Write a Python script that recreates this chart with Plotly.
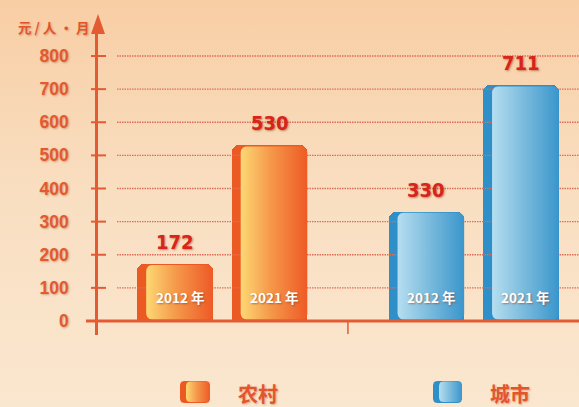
import numpy as np
import plotly.graph_objects as go

# ---------------- data ----------------
groups = ["农村", "城市"]
years = ["2012 年", "2021 年"]
rural_values = [172, 530]
urban_values = [330, 711]
y_ticks = [0, 100, 200, 300, 400, 500, 600, 700, 800]
y_title = "元 / 人 · 月"

# ---------------- layout constants ----------------
W, H = 579, 407
PLOT_L, PLOT_R, PLOT_T, PLOT_B = 98, 579, 30, 335
Y0_PX = 321                      # pixel row of value 0
PX_PER_UNIT_Y = 265 / 800.0
X_UNIT_PX = 94.5
FIRST_CENTER_PX = 175
GROUP_OFFSET = 2.66
BAR_W = 0.80

y_lo = -(PLOT_B - Y0_PX) / PX_PER_UNIT_Y
y_hi = (Y0_PX - PLOT_T) / PX_PER_UNIT_Y
x_lo = (PLOT_L - FIRST_CENTER_PX) / X_UNIT_PX
x_hi = (PLOT_R - FIRST_CENTER_PX) / X_UNIT_PX
grid_x0 = (117 - FIRST_CENTER_PX) / X_UNIT_PX

def px(x):
    return x / W

def py(y):
    return 1 - y / H

styles = {
    "农村": dict(side="#ec5a24", grad=[[0, "#fdd874"], [0.45, "#f5984a"], [1, "#ee5a26"]]),
    "城市": dict(side="#2f8fc9", grad=[[0, "#b6def0"], [0.5, "#78b9dc"], [1, "#3a96cc"]]),
}

def rounded_rect(x0, x1, y0, y1, rx, ry, n=8):
    xs, ys = [], []
    corners = [
        (x1 - rx, y1 - ry, 0, np.pi / 2),
        (x0 + rx, y1 - ry, np.pi / 2, np.pi),
        (x0 + rx, y0 + ry, np.pi, 1.5 * np.pi),
        (x1 - rx, y0 + ry, 1.5 * np.pi, 2 * np.pi),
    ]
    for cx, cy, a0, a1 in corners:
        t = np.linspace(a0, a1, n)
        xs.extend(cx + rx * np.cos(t))
        ys.extend(cy + ry * np.sin(t))
    xs.append(xs[0]); ys.append(ys[0])
    return xs, ys

fig = go.Figure()

# ---------- background (full-paper axes: x, y) ----------
fig.add_trace(go.Scatter(
    x=[0, W, W, 0, 0], y=[0, 0, H, H, 0], fill="toself", mode="lines",
    line=dict(width=0),
    fillgradient=dict(type="vertical",
                      colorscale=[[0, "#fae7cf"], [0.5, "#f9dfc2"], [1, "#f8cea5"]]),
    hoverinfo="skip", showlegend=False, xaxis="x", yaxis="y"))

# legend swatches (drawn on the background axes, pixel-like coords)
legend_pos = {"农村": (180, 210), "城市": (433, 462)}
for g in groups:
    a, b = legend_pos[g]
    st = styles[g]
    xs, ys = rounded_rect(a, b, H - 403, H - 381, 4, 4)
    fig.add_trace(go.Scatter(x=xs, y=ys, fill="toself", mode="lines", line=dict(width=0),
                             fillcolor=st["side"], hoverinfo="skip", showlegend=False,
                             xaxis="x", yaxis="y"))
    xs, ys = rounded_rect(a + 6, b, H - 402, H - 381.5, 4, 4)
    fig.add_trace(go.Scatter(x=xs, y=ys, fill="toself", mode="lines", line=dict(width=0),
                             fillgradient=dict(type="horizontal", colorscale=st["grad"]),
                             hoverinfo="skip", showlegend=False, xaxis="x", yaxis="y"))

# ---------- dotted gridlines (main axes, behind bars) ----------
gx, gy = [], []
for t in y_ticks[1:]:
    gx += [grid_x0, x_hi, None]
    gy += [t, t, None]
fig.add_trace(go.Scatter(x=gx, y=gy, mode="lines",
                         line=dict(color="#de6e58", width=1.3, dash="1.5px,1px"),
                         hoverinfo="skip", showlegend=False, xaxis="x2", yaxis="y2"))

# ---------- bars (main axes: x2, y2) ----------
annotations = []
series = {"农村": rural_values, "城市": urban_values}
for gi, g in enumerate(groups):
    vals = series[g]
    st = styles[g]
    centers = [gi * GROUP_OFFSET + j for j in range(len(years))]
    fig.add_trace(go.Bar(
        x=centers, y=vals, width=BAR_W, marker=dict(color=st["side"], cornerradius=7,
                                                      line=dict(width=0)),
        hoverinfo="skip", showlegend=False, xaxis="x2", yaxis="y2"))
    rx = 6 / X_UNIT_PX
    ry = 6 / PX_PER_UNIT_Y
    for c, v, yr in zip(centers, vals, years):
        x0 = c - BAR_W / 2 + 9 / X_UNIT_PX
        x1 = c + BAR_W / 2
        y1 = v - 1 / PX_PER_UNIT_Y
        y0 = 1.5 / PX_PER_UNIT_Y
        xs, ys = rounded_rect(x0, x1, y0, y1, rx, ry)
        fig.add_trace(go.Scatter(
            x=xs, y=ys, fill="toself", mode="lines", line=dict(width=0),
            fillgradient=dict(type="horizontal", colorscale=st["grad"]),
            hoverinfo="skip", showlegend=False, xaxis="x2", yaxis="y2"))
        annotations.append(dict(
            x=c, y=v, xref="x2", yref="y2", text=f"<b>{v}</b>", showarrow=False,
            yanchor="bottom", yshift=8,
            font=dict(family="DejaVu Sans Condensed, Liberation Sans Narrow, Arial",
                      size=20, color="#d8241b",
                      shadow="1px 1px 2px rgba(140,50,10,0.5)")))
        annotations.append(dict(
            x=c + 4.5 / X_UNIT_PX, y=72, xref="x2", yref="y2", text=f"<b>{yr}</b>",
            showarrow=False, yanchor="middle",
            font=dict(family="Noto Sans CJK SC, DejaVu Sans", size=13.5, color="white",
                      shadow="1px 1px 2px rgba(120,50,20,0.5)")))

# legend labels
for g in groups:
    a, b = legend_pos[g]
    annotations.append(dict(
        x=px(b + 26), y=py(393), xref="paper", yref="paper", xanchor="left",
        yanchor="middle", text=f"<b>{g}</b>", showarrow=False,
        font=dict(family="Noto Sans CJK SC", size=20, color="#e4552b",
                  shadow="1px 1px 2px rgba(140,50,10,0.35)")))

# y-axis title
annotations.append(dict(
    x=px(53), y=py(27), xref="paper", yref="paper", xanchor="center", yanchor="middle",
    text=f"<b>{y_title}</b>", showarrow=False,
    font=dict(family="Noto Sans CJK SC", size=13.5, color="#e0562c",
              shadow="1px 1px 2px rgba(140,50,10,0.35)")))

AX_COL = "#e45b33"
shapes = []
# tick marks crossing the y axis
for t in y_ticks[1:]:
    shapes.append(dict(type="line", xref="paper", yref="y2", x0=px(91), x1=px(106),
                       y0=t, y1=t, line=dict(color=AX_COL, width=2)))
# x axis line at 0
shapes.append(dict(type="line", xref="paper", yref="y2", x0=px(86), x1=1, y0=0, y1=0,
                   line=dict(color=AX_COL, width=3)))
# group separator tick
sep = (len(years) - 1 + GROUP_OFFSET) / 2
shapes.append(dict(type="line", xref="x2", yref="y2", ysizemode="pixel", yanchor=0,
                   x0=sep, x1=sep, y0=0, y1=-13, line=dict(color=AX_COL, width=1.5)))
# y axis arrow head
shapes.append(dict(type="path", xref="paper", yref="paper",
                   path=f"M {px(98)} {py(14)} L {px(91)} {py(34)} L {px(105)} {py(34)} Z",
                   fillcolor=AX_COL, line=dict(width=0)))

fig.update_layout(
    width=W, height=H, margin=dict(l=0, r=0, t=0, b=0),
    paper_bgcolor="#f9e2c8", plot_bgcolor="rgba(0,0,0,0)",
    showlegend=False, bargap=0,
    xaxis=dict(domain=[0, 1], range=[0, W], visible=False, fixedrange=True),
    yaxis=dict(domain=[0, 1], range=[0, H], visible=False, fixedrange=True),
    xaxis2=dict(domain=[px(PLOT_L), 1], range=[x_lo, x_hi], anchor="y2",
                showgrid=False, zeroline=False, showticklabels=False, ticks=""),
    yaxis2=dict(domain=[py(PLOT_B), py(PLOT_T)], range=[y_lo, y_hi], anchor="x2",
                showgrid=False, zeroline=False, showline=True, linecolor=AX_COL,
                linewidth=2.5, tickvals=y_ticks, ticks="", ticklabelstandoff=23,
                tickfont=dict(family="Liberation Sans, Arial", size=17.5, color="#e25a30",
                              weight="bold", shadow="1px 1px 2px rgba(140,50,10,0.35)")),
    annotations=annotations, shapes=shapes,
)

fig.write_html("out.html", config={"displayModeBar": False},
               post_script="document.body.style.margin='0';document.body.style.overflow='hidden';")
